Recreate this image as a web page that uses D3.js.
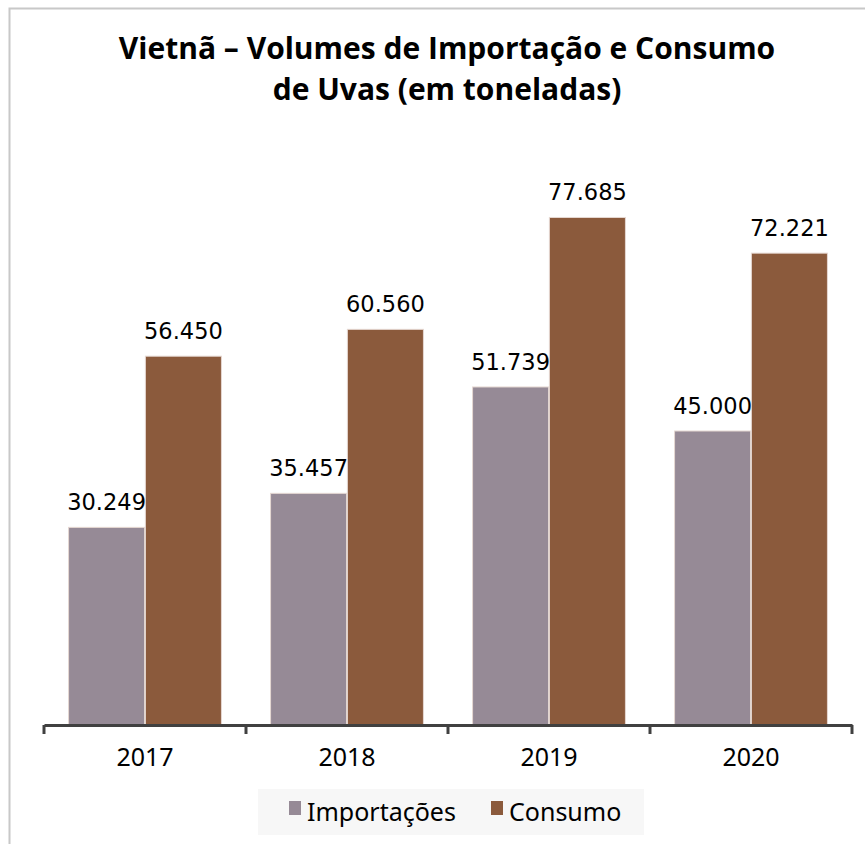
<!DOCTYPE html>
<html>
<head>
<meta charset="utf-8">
<script src="https://cdn.jsdelivr.net/npm/d3@7"></script>
<style>
  body { margin: 0; background: #fff; }
  svg { display: block; }
</style>
</head>
<body>
<script>
// data
var years = ["2017", "2018", "2019", "2020"];
var importacoes = [30249, 35457, 51739, 45000];
var consumo = [56450, 60560, 77685, 72221];
var seriesNames = ["Importações", "Consumo"];
var titleLines = ["Vietnã – Volumes de Importação e Consumo", "de Uvas (em toneladas)"];

var W = 865, H = 844;
var colors = ["#968a96", "#8b5a3c"];

var svg = d3.select("body").append("svg")
    .attr("width", W)
    .attr("height", H);

// outer frame
svg.append("rect")
    .attr("x", 9.5).attr("y", 8.5)
    .attr("width", W + 10).attr("height", H + 10)
    .attr("fill", "#fff")
    .attr("stroke", "#c8c8c8")
    .attr("stroke-width", 2);

svg.selectAll("text.title")
    .data(titleLines)
    .enter()
    .append("text")
    .attr("class", "title")
    .attr("x", 447)
    .attr("y", function(d, i) { return 59 + i * 41; })
    .attr("text-anchor", "middle")
    .attr("font-family", "Open Sans")
    .attr("font-weight", "bold")
    .attr("font-size", 30)
    .attr("fill", "#000")
    .text(function(d) { return d; });

var x0 = d3.scaleBand()
    .domain(years)
    .range([44, 852])
    .paddingInner(0)
    .paddingOuter(0);

var x1 = d3.scaleBand()
    .domain(seriesNames)
    .range([0, x0.bandwidth()])
    .paddingInner(0.01)
    .paddingOuter(0.32);

var y = d3.scaleLinear()
    .domain([0, 90000])
    .range([725, 137]);

var data = years.map(function(yr, i) {
    return { year: yr, values: [importacoes[i], consumo[i]] };
});

var group = svg.selectAll("g.year")
    .data(data)
    .enter()
    .append("g")
    .attr("class", "year")
    .attr("transform", function(d) { return "translate(" + x0(d.year) + ",0)"; });

group.selectAll("rect")
    .data(function(d) { return d.values.map(function(v, j) { return { name: seriesNames[j], v: v, j: j }; }); })
    .enter()
    .append("rect")
    .attr("x", function(d) { return x1(d.name); })
    .attr("y", function(d) { return y(d.v); })
    .attr("width", x1.bandwidth())
    .attr("height", function(d) { return y(0) - y(d.v); })
    .attr("fill", function(d) { return colors[d.j]; })
    .attr("stroke", "#e6d8d2")
    .attr("stroke-width", 1);

group.selectAll("text")
    .data(function(d) { return d.values.map(function(v, j) { return { name: seriesNames[j], v: v }; }); })
    .enter()
    .append("text")
    .attr("x", function(d) { return x1(d.name) + x1.bandwidth() / 2; })
    .attr("y", function(d) { return y(d.v) - 17; })
    .attr("text-anchor", "middle")
    .attr("font-family", "DejaVu Sans")
    .attr("font-size", 22.5)
    .attr("fill", "#000")
    .text(function(d) { return d3.format(",")(d.v).replace(",", "."); });

// x axis
var axis = svg.append("g")
    .attr("transform", "translate(0,725)")
    .call(d3.axisBottom(x0).tickSize(0).tickPadding(23));

axis.select(".domain")
    .attr("stroke", "#404040")
    .attr("stroke-width", 3);
axis.selectAll("text")
    .attr("font-family", "Noto Sans")
    .attr("font-size", 25)
    .attr("fill", "#000");

// tick marks at category boundaries
svg.selectAll("line.tick")
    .data(years.concat(["end"]))
    .enter()
    .append("line")
    .attr("class", "tick")
    .attr("x1", function(d, i) { return i < years.length ? x0(d) : x0.range()[1]; })
    .attr("x2", function(d, i) { return i < years.length ? x0(d) : x0.range()[1]; })
    .attr("y1", 725)
    .attr("y2", 734)
    .attr("stroke", "#404040")
    .attr("stroke-width", 3);

// legend
var legend = svg.append("g");
legend.append("rect")
    .attr("x", 258).attr("y", 789)
    .attr("width", 386).attr("height", 46)
    .attr("fill", "#f7f7f7");

var legendX = [289, 491];
var items = legend.selectAll("g.item")
    .data(seriesNames)
    .enter()
    .append("g")
    .attr("class", "item")
    .attr("transform", function(d, i) { return "translate(" + legendX[i] + ",0)"; });

items.append("rect")
    .attr("x", 0).attr("y", 801)
    .attr("width", 12).attr("height", 14)
    .attr("fill", function(d, i) { return colors[i]; });

items.append("text")
    .attr("x", 18)
    .attr("y", 821)
    .attr("font-family", "Noto Sans")
    .attr("font-size", 25)
    .attr("fill", "#000")
    .text(function(d) { return d; });
</script>
</body>
</html>
